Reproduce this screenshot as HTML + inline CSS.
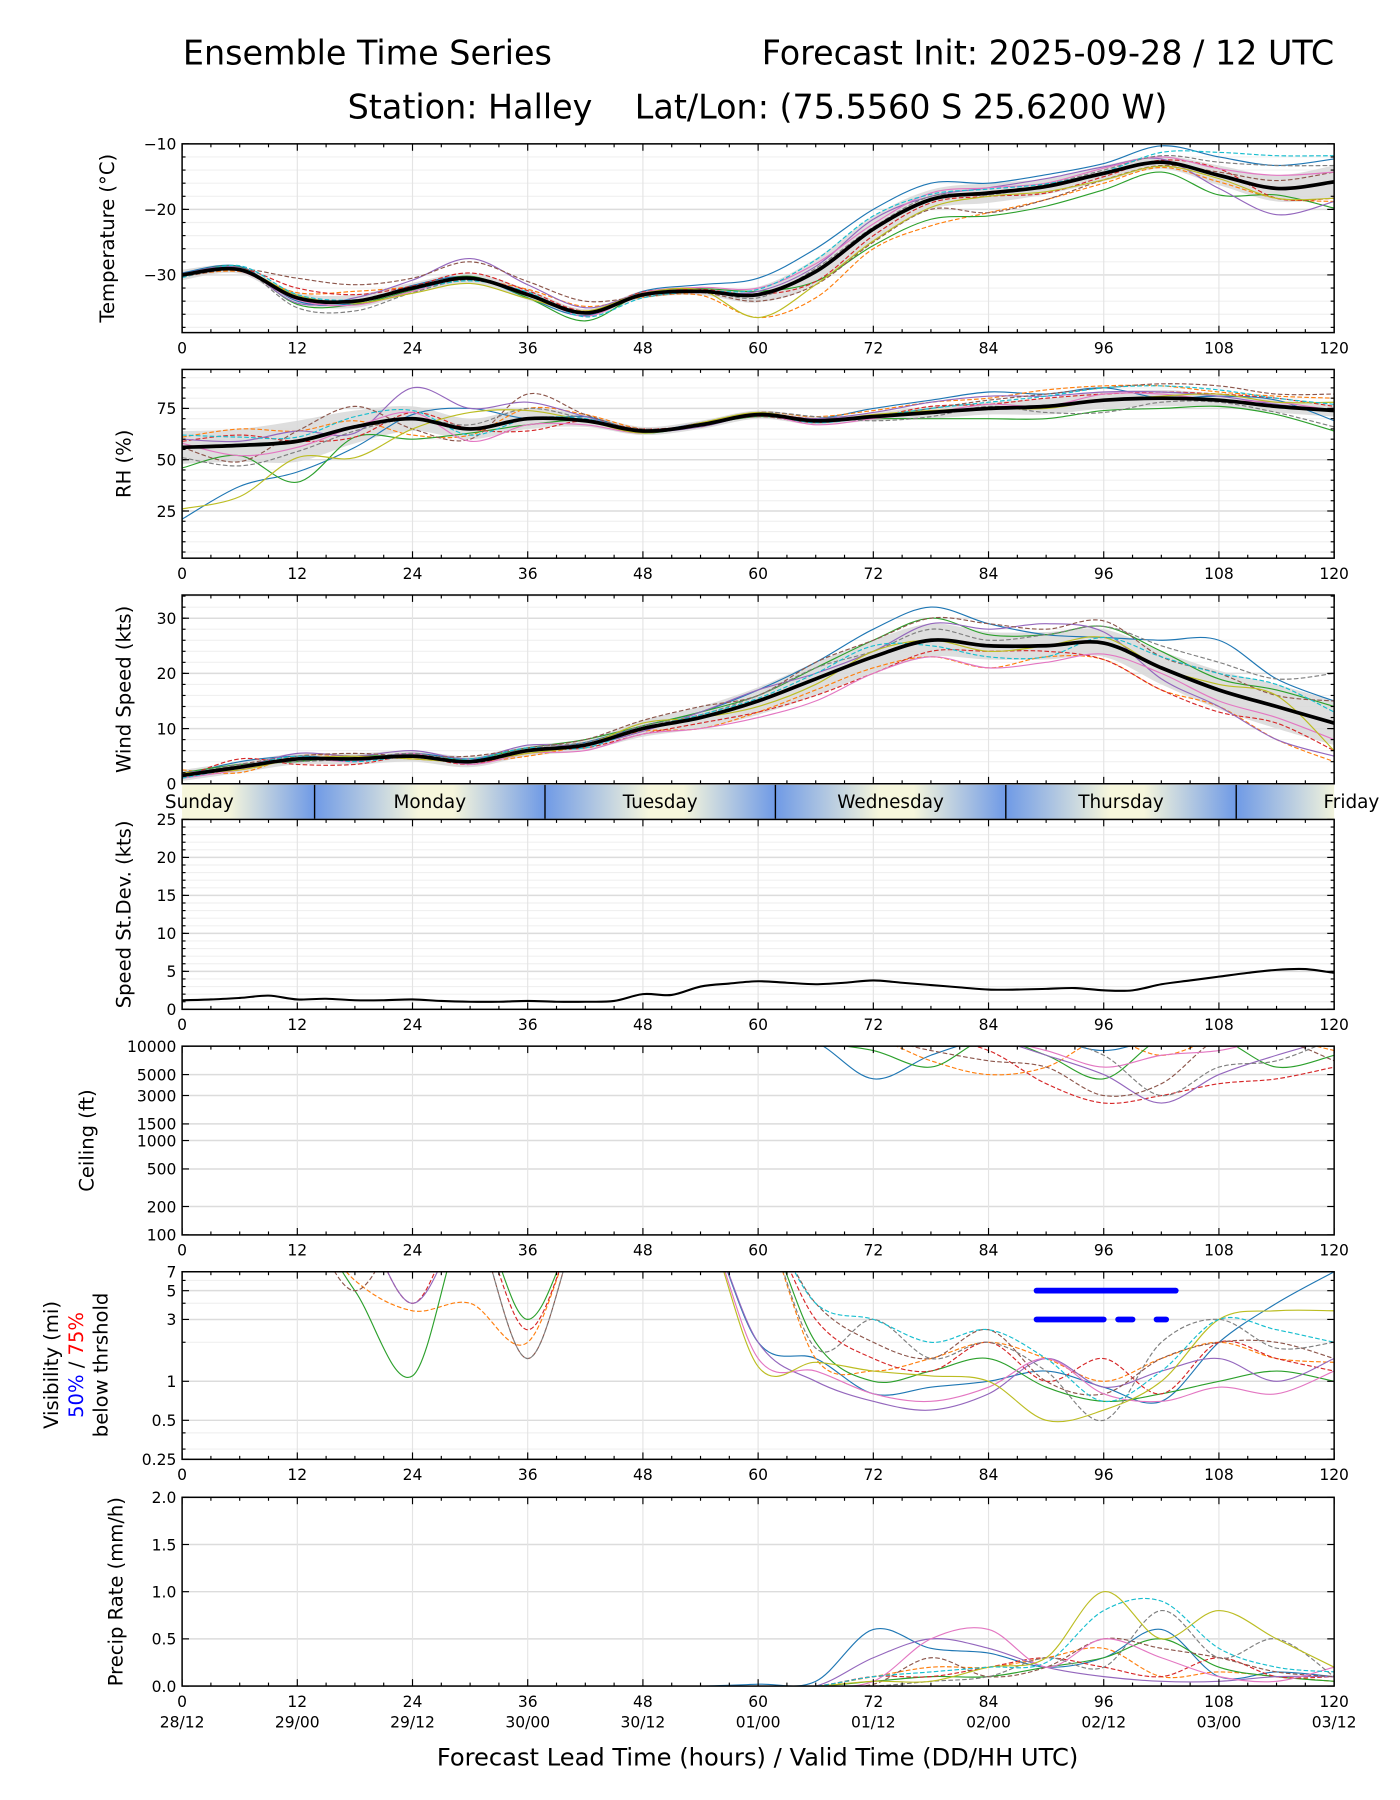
<!DOCTYPE html>
<html><head><meta charset="utf-8"><style>
html,body{margin:0;padding:0;background:#fff;}
svg{display:block;font-family:"DejaVu Sans","Liberation Sans",sans-serif;}
</style></head><body>
<svg id="chart" width="1400" height="1800" viewBox="0 0 1216 1564" xmlns="http://www.w3.org/2000/svg">
<text x="319" y="56" font-size="29" text-anchor="middle">Ensemble Time Series</text>
<text x="1159" y="56" font-size="29" text-anchor="end">Forecast Init: 2025-09-28 / 12 UTC</text>
<text x="658" y="103" font-size="29" text-anchor="middle" xml:space="preserve" style="white-space:pre">Station: Halley    Lat/Lon: (75.5560 S 25.6200 W)</text>
<g id="plots"></g>
</svg>
<script>
const hours6=[0,6,12,18,24,30,36,42,48,54,60,66,72,78,84,90,96,102,108,114,120];
const tempMean=[-30,-29.2,-33.5,-34,-32,-30.5,-33,-35.8,-33,-32.5,-33,-29.5,-23,-18.5,-17.5,-16.5,-14.5,-12.8,-14.8,-16.8,-15.8];
const tempBand=[0.8,0.6,0.8,1,0.8,0.8,0.8,0.6,0.6,0.6,1.2,2,2,1.5,1.5,1.2,1.2,1,1.5,2,2.5];
const tempDev=[
[0.3,0.5,-0.5,-0.3,0.4,0.2,-0.5,-0.4,0.5,1.0,2.5,3.5,3,2.5,1.5,1.8,1.5,2.5,2.8,3.5,3.5],
[-0.2,-0.3,0.8,1.5,0.2,-0.3,0.8,1.0,-0.4,-0.6,-3.5,-4,-3,-4,-3,-2,-1.5,-0.8,-1.0,-1.5,-3],
[0.1,0.4,-1,-0.5,-0.3,0.3,-0.5,-1.2,0.2,0.4,0.5,-1.5,-2.5,-3,-3.5,-3,-2.5,-1.5,-3,-1,-4],
[0,0.2,1.5,1,0.3,0.8,0.6,0.3,0.4,0.3,0,-1.5,-1,-0.5,-0.5,-1,-0.5,0.3,1,-1.5,-2.5],
[0.2,0.3,-0.8,0.5,1.2,3,1.5,0.8,0.2,-0.2,0.5,0.8,1.5,0.5,0.8,1.2,1,0.5,-2,-4,-3],
[-0.3,0.1,3,2.5,1.5,2.5,2,1.8,-0.3,-0.2,-1,-2,-2,-1.5,-3,-2,-1,-0.5,0.5,1.2,1.5],
[0.2,-0.2,-0.3,-0.6,-0.5,0,0.3,-0.5,0.3,0.6,1,1.2,0.8,1,0.8,0.5,0.8,0.8,1,2,1.5],
[-0.1,0.2,-1.5,-1.5,-0.7,-0.3,0,0.2,-0.2,0.1,-0.5,0.5,0.3,0.5,-0.3,0.3,0.5,1,2,3.5,2.5],
[0.1,0.1,0.4,-0.3,-0.8,-0.8,-0.6,0.3,0.2,0.2,-3.5,-2,-1.8,-1.2,-0.5,-0.8,-1.0,-0.6,-0.5,-1.5,-2.5],
[-0.4,0.6,0.5,0.2,-0.2,-0.4,0.4,-0.6,-0.5,0,0.8,1.8,2,0.8,0.6,0.4,0.2,1.5,3.5,5,4]];
const rhMean=[56,57,59,66,70,65,70,69,64,67,72,69,71,73,75,76,79,80,79,76,74];
const rhBand=[8,8,10,8,6,5,5,3,2,2,2,2,2,3,3,4,4,4,3,3,3];
const rhDev=[
[-35,-20,-15,-10,2,10,0,2,0,1,0,1,4,6,8,6,6,0,2,3,-5],
[5,8,5,3,-8,-3,5,3,1,-1,1,2,3,5,5,8,7,6,4,5,6],
[-10,-5,-20,-5,-10,-2,-3,0,-1,0,-1,0,-1,-3,-5,-6,-5,-5,-3,-4,-10],
[3,5,0,-5,3,0,-6,0,1,0,0,1,0,3,2,4,3,3,3,4,2],
[4,2,5,-3,15,10,8,2,0,-1,0,1,2,5,6,5,4,3,2,1,0],
[0,-8,5,10,-5,-5,12,3,0,0,-1,-1,0,2,4,6,6,7,7,6,8],
[2,-5,-3,0,3,-6,-3,-2,-1,1,0,-2,-1,0,2,0,3,2,0,2,0],
[-5,-10,-5,-2,0,2,5,1,1,0,1,2,-2,-2,1,-3,-6,-2,-1,-3,-8],
[-30,-25,-8,-15,-5,8,4,0,-1,1,1,0,1,1,0,-1,0,1,3,2,4],
[6,4,2,5,4,-3,0,1,0,0,0,-1,0,2,3,5,6,6,5,4,3]];
const windMean=[1.5,3,4.5,4.5,5,4,6,7,10,12,15,19,23,26,25,25,25.5,21,17,14,11];
const windBand=[1,1,1,1,1,1,1,1,1.5,2,2.5,3,3,3,2.5,2.5,2.5,3,3.5,4,4];
const windDev=[
[0,1,0.5,0,0.5,0.5,0,0.5,0.5,1,2,3,5,6,4,2,1,5,9,5,4],
[1,-1,0.5,0.5,-0.5,0,-1,0,-0.5,-2,-2,-2,-2,-3,-4,-2,-3,-4,-3,-6,-7],
[0.5,0.5,-0.5,0.5,0,0.5,0.5,1,0.5,1,1,2,3,4,2,2,3,3,2,3,3],
[-0.5,1.5,-1,-1,0,-0.5,0,-0.5,-1,-1,-2,-3,-3,-2,-1,-1,-3,-4,-4,-3,-5],
[0.5,0,1,0.5,1,0.5,1,0,-0.5,1,2,1,1,3,3,4,2,-2,-3,-6,-6],
[0,0.5,0.5,1,0,1,0.5,1,1.5,2,1,3,3,4,4,3,4,2,3,2,4],
[-0.5,-0.5,0,-0.5,0.5,-0.5,-0.5,-1,-1,-2,-3,-4,-3,-3,-4,-3,-2,-1,-2,-2,-3],
[0,0.5,-0.5,0,0.5,0,0.5,0.5,0.5,0.5,1,2,1,2,1,2,3,4,5,5,9],
[0.5,-0.5,0,0.5,-0.5,0,-0.5,0,1,0,-1,-1,1,0,-1,0,1,0,1,2,-5],
[-0.5,0,0.5,-0.5,0,0.5,0.5,-0.5,0,0.5,0.5,1,2,-1,-2,-2,1,2,3,4,2]];
const sdHours=[0,3,6,9,12,15,18,21,24,27,30,33,36,39,42,45,48,51,54,57,60,63,66,69,72,75,78,81,84,87,90,93,96,99,102,105,108,111,114,117,120];
const sdValues=[1.2,1.3,1.5,1.8,1.3,1.4,1.2,1.2,1.3,1.1,1.0,1.0,1.1,1.0,1.0,1.1,2.0,1.9,3.0,3.4,3.7,3.5,3.3,3.5,3.8,3.5,3.2,2.9,2.6,2.6,2.7,2.8,2.5,2.5,3.3,3.8,4.3,4.8,5.2,5.3,4.8];
const ceilHours=[60,66,72,78,84,90,96,102,108,114,120];
const ceilMembers=[
[14000,11000,4500,8000,12000,12000,9000,12000,12000,12000,12000],
[14000,11000,12000,7000,5000,6000,12000,8000,12000,12000,9000],
[14000,11000,9000,6000,12000,8000,4500,12000,12000,6000,8000],
[14000,12000,12000,12000,9000,4000,2500,3000,4000,4500,6000],
[14000,12000,12000,12000,12000,8000,5000,2500,5000,8000,12000],
[14000,12000,12000,9000,7000,6000,3000,4000,12000,12000,7000],
[14000,12000,12000,12000,12000,9000,6000,8000,9000,12000,12000],
[14000,12000,12000,12000,12000,12000,8000,3000,6000,7000,12000]];
const visMembers=[
[20,20,20,20,20,20,20,20,20,20,2,1.5,0.8,0.9,1,1.2,0.9,0.7,2,4,7],
[20,20,20,6,3.5,4,2,20,20,20,20,1.5,1.2,1.5,2,1.5,1,1.5,2,1.5,1.4],
[20,20,20,5,1.1,20,3,20,20,20,20,2,1,1.2,1.5,0.9,0.7,0.8,1,1.2,1],
[20,20,20,20,4,20,2.5,20,20,20,20,3,1.5,1.2,2,1,1.5,0.8,2,1.5,1.2],
[20,20,20,20,4,20,20,20,20,20,2,1,0.7,0.6,0.8,1.5,0.9,1.2,1.5,1,1.5],
[20,20,20,5,20,20,1.5,20,20,20,20,4,2,1.5,2.5,1,0.8,1.5,2,2,1.5],
[20,20,20,20,20,20,20,20,20,20,1.5,1.2,0.8,0.7,0.9,1.5,0.8,0.7,0.9,0.8,1.2],
[20,20,20,20,20,20,1.5,20,20,20,20,1.8,3,1.5,2,1.2,0.5,2,3,1.8,2],
[20,20,20,20,20,20,20,20,20,20,1.3,1.4,1.2,1.1,1,0.5,0.6,1,3,3.5,3.5],
[20,20,20,20,20,20,20,20,20,20,20,4,3,2,2.5,1.5,0.7,1.2,3,2.5,2]];
const visThr50=[[89,103.5]];
const visThr75=[[89,96],[97.5,99],[101.5,102.5]];
const precipMembers=[
[0,0,0,0,0,0,0,0,0,0,0.02,0.05,0.6,0.4,0.35,0.2,0.3,0.6,0.1,0.15,0.1],
[0,0,0,0,0,0,0,0,0,0,0,0,0.1,0.2,0.2,0.3,0.4,0.1,0.15,0.1,0.05],
[0,0,0,0,0,0,0,0,0,0,0,0,0.05,0.1,0.1,0.2,0.3,0.5,0.2,0.1,0.05],
[0,0,0,0,0,0,0,0,0,0,0,0,0.1,0.1,0.2,0.3,0.2,0.1,0.3,0.1,0.1],
[0,0,0,0,0,0,0,0,0,0,0,0,0.3,0.5,0.4,0.2,0.1,0.05,0.05,0.1,0.1],
[0,0,0,0,0,0,0,0,0,0,0,0,0.02,0.3,0.1,0.2,0.5,0.4,0.3,0.15,0.1],
[0,0,0,0,0,0,0,0,0,0,0,0,0.05,0.5,0.6,0.2,0.5,0.3,0.1,0.05,0.2],
[0,0,0,0,0,0,0,0,0,0,0,0,0,0.05,0.1,0.3,0.2,0.8,0.3,0.5,0.1],
[0,0,0,0,0,0,0,0,0,0,0,0,0.05,0.05,0.2,0.3,1.0,0.5,0.8,0.5,0.2],
[0,0,0,0,0,0,0,0,0,0,0,0,0.1,0.15,0.2,0.25,0.8,0.9,0.4,0.2,0.15]];
const xTicks=[0,12,24,36,48,60,72,84,96,108,120];
const dateLabels=["28/12","29/00","29/12","30/00","30/12","01/00","01/12","02/00","02/12","03/00","03/12"];
const dayNames=["Sunday","Monday","Tuesday","Wednesday","Thursday","Friday"];
const dayBoundaries=[13.8,37.8,61.8,85.8,109.8];
const colors=["#1f77b4","#ff7f0e","#2ca02c","#d62728","#9467bd","#8c564b","#e377c2","#7f7f7f","#bcbd22","#17becf"];

const NS="http://www.w3.org/2000/svg";
const root=document.getElementById('plots');
const X0=158,X1=1159;
const x=h=>X0+h*(X1-X0)/120;
function el(tag,attrs,parent){const e=document.createElementNS(NS,tag);for(const k in attrs)e.setAttribute(k,attrs[k]);(parent||root).appendChild(e);return e;}
function smooth(pts){
  if(pts.length<2)return '';
  let d='M'+pts[0][0].toFixed(1)+','+pts[0][1].toFixed(1);
  for(let i=0;i<pts.length-1;i++){
    const p0=pts[Math.max(0,i-1)],p1=pts[i],p2=pts[i+1],p3=pts[Math.min(pts.length-1,i+2)];
    const c1=[p1[0]+(p2[0]-p0[0])/6,p1[1]+(p2[1]-p0[1])/6],c2=[p2[0]-(p3[0]-p1[0])/6,p2[1]-(p3[1]-p1[1])/6];
    d+='C'+c1.map(v=>v.toFixed(1))+' '+c2.map(v=>v.toFixed(1))+' '+p2[0].toFixed(1)+','+p2[1].toFixed(1);
  }
  return d;
}
let clipId=0;
function panel(name,y0,y1,ys,ticks,minor,label,opts){
  opts=opts||{};
  const g=el('g',{});
  
  
  const cid='clip'+(clipId++);
  const cp=el('clipPath',{id:cid},g);el('rect',{x:X0,y:y0,width:X1-X0,height:y1-y0},cp);
  const grid=el('g',{},g);
  
  
  minor.forEach(v=>{const yy=ys(v);el('line',{x1:X0,x2:X1,y1:yy,y2:yy,stroke:'#f0f0f0','stroke-width':1},grid);});
  ticks.forEach(t=>{const yy=ys(t[0]);el('line',{x1:X0,x2:X1,y1:yy,y2:yy,stroke:'#dcdcdc','stroke-width':1.3},grid);});
  xTicks.forEach(h=>el('line',{x1:x(h),x2:x(h),y1:y0,y2:y1,stroke:'#e4e4e4','stroke-width':1},grid));
  const data=el('g',{'clip-path':'url(#'+cid+')'},g);
  
  
  const fr=el('rect',{x:X0,y:y0,width:X1-X0,height:y1-y0,fill:'none',stroke:'#000','stroke-width':1.3},g);
  
  
  const ax=el('g',{'font-size':13.5},g);
  
  
  ticks.forEach(t=>{const yy=ys(t[0]);
    el('line',{x1:X0,x2:X0+6,y1:yy,y2:yy,stroke:'#000'},ax);el('line',{x1:X1,x2:X1-6,y1:yy,y2:yy,stroke:'#000'},ax);
    const tx=el('text',{x:X0-5,y:yy+5,'text-anchor':'end'},ax);tx.textContent=t[1];
    
    });
  minor.forEach(v=>{const yy=ys(v);el('line',{x1:X0,x2:X0+3,y1:yy,y2:yy,stroke:'#000'},ax);el('line',{x1:X1,x2:X1-3,y1:yy,y2:yy,stroke:'#000'},ax);});
  const xa=el('g',{'font-size':13.5},g);
  
  
  for(let h=0;h<=120;h+=3){const L=h%12==0?6:3;
    el('line',{x1:x(h),x2:x(h),y1:y1,y2:y1-L,stroke:'#000'},xa);el('line',{x1:x(h),x2:x(h),y1:y0,y2:y0+L,stroke:'#000'},xa);}
  if(!opts.noXLabels) xTicks.forEach(h=>{const t=el('text',{x:x(h),y:y1+18,'text-anchor':'middle'},xa);t.textContent=h;
    
    });
  if(label){const cy=(y0+y1)/2;const t=el('text',{x:0,y:0,'font-size':17,'text-anchor':'middle',transform:'translate('+(opts.labelX||100)+','+cy+') rotate(-90)'},g);t.textContent=label;
    
    }
  return data;
}
function members(data,hrs,series,ys,name){
  series.forEach((s,i)=>{
    const pts=hrs.map((h,j)=>[x(h),ys(s[j])]);
    const p=el('path',{d:smooth(pts),fill:'none',stroke:colors[i%10],'stroke-width':1,'stroke-dasharray':i%2?'4,2':'none'},data);
    
    
  });
}
function meanBand(data,mean,band,ys,name){
  const up=hours6.map((h,j)=>[x(h),ys(mean[j]+band[j])]);
  const lo=hours6.map((h,j)=>[x(h),ys(mean[j]-band[j])]).reverse();
  const d=smooth(up)+'L'+smooth(lo).slice(1)+'Z';
  const b=el('path',{d:d,fill:'#d8d8d8','fill-opacity':0.85,stroke:'none'},data);
  
  
  return ()=>{const m=el('path',{d:smooth(hours6.map((h,j)=>[x(h),ys(mean[j])])),fill:'none',stroke:'#000','stroke-width':3.2},data);
    
    };
}
function lin(v0,v1,y0,y1){return v=>y1-(v-v0)/(v1-v0)*(y1-y0);}
function logs(v0,v1,y0,y1){return v=>y1-(Math.log(Math.max(v,1e-3))-Math.log(v0))/(Math.log(v1)-Math.log(v0))*(y1-y0);}
function rng(a,b,s){const r=[];for(let v=a;v<=b+1e-9;v+=s)r.push(+v.toFixed(3));return r;}

let ys=lin(-38.8,-10,125,289);
let d=panel('temperature',125,289,ys,[[-10,'−10'],[-20,'−20'],[-30,'−30']],rng(-38,-12,2),'Temperature (°C)',{labelX:99});
let drawMean=meanBand(d,tempMean,tempBand,ys,'temperature');
members(d,hours6,tempDev.map(dv=>dv.map((v,j)=>tempMean[j]+v)),ys,'temperature');drawMean();
ys=lin(2,94,321,485);
d=panel('rh',321,485,ys,[[25,'25'],[50,'50'],[75,'75']],rng(5,90,5),'RH (%)',{labelX:113});
drawMean=meanBand(d,rhMean,rhBand,ys,'rh');
members(d,hours6,rhDev.map(dv=>dv.map((v,j)=>rhMean[j]+v)),ys,'rh');drawMean();
ys=lin(0,34.2,517,681);
d=panel('wind-speed',517,681,ys,[[0,'0'],[10,'10'],[20,'20'],[30,'30']],rng(2,34,2),'Wind Speed (kts)',{labelX:113,noXLabels:true});
drawMean=meanBand(d,windMean,windBand,ys,'wind');
members(d,hours6,windDev.map(dv=>dv.map((v,j)=>Math.max(0,windMean[j]+v))),ys,'wind');drawMean();
(function(){
  const g=el('g',{});
  
  
  const defs=el('defs',{},g);
  const lg=el('linearGradient',{id:'dayGrad',x1:0,x2:1,y1:0,y2:0},defs);
  el('stop',{offset:'0','stop-color':'#6f9ae6'},lg);el('stop',{offset:'0.45','stop-color':'#f6f6dc'},lg);el('stop',{offset:'0.6','stop-color':'#f6f6dc'},lg);el('stop',{offset:'1','stop-color':'#6f9ae6'},lg);
  const lg0=el('linearGradient',{id:'dayGrad0',x1:0,x2:1,y1:0,y2:0},defs);
  el('stop',{offset:'0','stop-color':'#f6f6dc'},lg0);el('stop',{offset:'0.35','stop-color':'#f6f6dc'},lg0);el('stop',{offset:'1','stop-color':'#6f9ae6'},lg0);
  const edges=[0].concat(dayBoundaries).concat([120]);
  for(let i=0;i<edges.length-1;i++){
    const a=x(edges[i]),b=x(edges[i+1]);
    const r=el('rect',{x:a,y:682,width:b-a,height:30,fill:'url(#'+(i==0?'dayGrad0':'dayGrad')+')'},g);
    if(i==edges.length-2){r.setAttribute('width',(b-a)*2.3);r.setAttribute('clip-path','url(#dayclipR)');}
    
    
  }
  const cr=el('clipPath',{id:'dayclipR'},defs);el('rect',{x:x(109.8),y:680,width:x(120)-x(109.8),height:34},cr);
  dayBoundaries.forEach(h=>el('line',{x1:x(h),x2:x(h),y1:682,y2:712,stroke:'#000','stroke-width':1.2},g));
  dayNames.forEach((n,i)=>{const t=el('text',{x:x(1.8+24*i),y:702,'font-size':16,'text-anchor':'middle'},g);t.textContent=n;
    
    });
})();
ys=lin(0,25,712,877);
d=panel('speed-stdev',712,877,ys,[0,5,10,15,20,25].map(v=>[v,String(v)]),rng(1,24,1),'Speed St.Dev. (kts)',{labelX:113});
(function(){const p=el('path',{d:smooth(sdHours.map((h,j)=>[x(h),ys(sdValues[j])])),fill:'none',stroke:'#000','stroke-width':1.8},d);
  
  })();
ys=logs(100,10000,909,1073);
d=panel('ceiling',909,1073,ys,[[100,'100'],[200,'200'],[500,'500'],[1000,'1000'],[1500,'1500'],[3000,'3000'],[5000,'5000'],[10000,'10000']],[],'Ceiling (ft)',{labelX:81});
members(d,ceilHours,ceilMembers,ys,'ceiling');
ys=logs(0.25,7,1105,1268);
d=panel('visibility',1105,1268,ys,[[0.25,'0.25'],[0.5,'0.5'],[1,'1'],[3,'3'],[5,'5'],[7,'7']],[0.3,0.4,2,4,6],null,{});
members(d,hours6,visMembers,ys,'visibility');
visThr50.forEach(s=>{const l=el('line',{x1:x(s[0]),x2:x(s[1]),y1:ys(5),y2:ys(5),stroke:'#0000ff','stroke-width':5,'stroke-linecap':'round'},d);
  
  });
visThr75.forEach(s=>{const l=el('line',{x1:x(s[0]),x2:x(s[1]),y1:ys(3),y2:ys(3),stroke:'#0000ff','stroke-width':5,'stroke-linecap':'round'},d);
  
  });
(function(){
  const cy=1186;
  const t=el('text',{'font-size':17,'text-anchor':'middle',transform:'translate(50,'+cy+') rotate(-90)'});
  t.textContent='Visibility (mi)';
  
  
  const t2=el('text',{'font-size':17,'text-anchor':'middle',transform:'translate(72,'+cy+') rotate(-90)'});
  t2.innerHTML='<tspan fill="#0000ff">50%</tspan> / <tspan fill="#ff0000">75%</tspan>';
  
  
  const t3=el('text',{'font-size':17,'text-anchor':'middle',transform:'translate(93,'+cy+') rotate(-90)'});
  t3.textContent='below thrshold';
  
  
})();
ys=lin(0,2,1301,1465);
d=panel('precip',1301,1465,ys,[[0,'0.0'],[0.5,'0.5'],[1,'1.0'],[1.5,'1.5'],[2,'2.0']],[],'Precip Rate (mm/h)',{labelX:106});
members(d,hours6,precipMembers,ys,'precip');
xTicks.forEach((h,i)=>{const t=el('text',{x:x(h),y:1501,'font-size':13.5,'text-anchor':'middle'});t.textContent=dateLabels[i];
  
  });
(function(){const t=el('text',{x:658,y:1534,'font-size':21,'text-anchor':'middle'});t.textContent='Forecast Lead Time (hours) / Valid Time (DD/HH UTC)';
  
  })();
</script>
</body></html>
